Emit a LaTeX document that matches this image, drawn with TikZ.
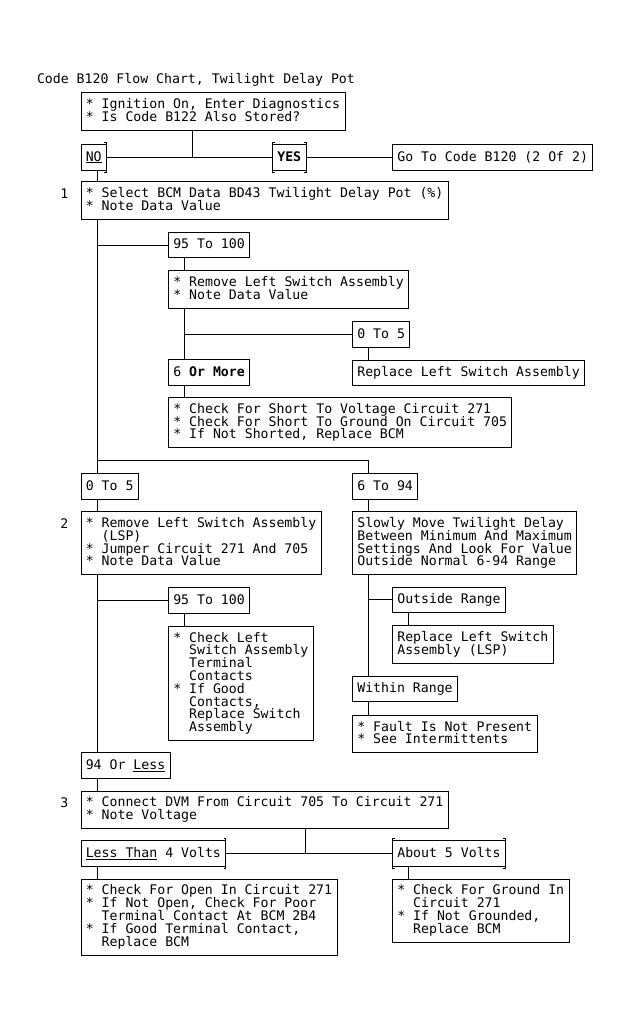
\documentclass[tikz,border=0pt]{standalone}
\usepackage{fontspec}
\usetikzlibrary{positioning}
\newfontfamily\chartfont{DejaVu Sans Mono}
\newcommand{\chartsize}{\fontsize{13.2pt}{12.8pt}\selectfont\lineskiplimit=-20pt\relax}
\newcommand{\cindent}{\hphantom{*\ }}

\begin{document}
\begin{tikzpicture}
		[x=1pt, y=1pt, line width=0.8pt,
		box/.style = {draw, align=left, inner xsep=4.8pt, inner ysep=5.7pt, outer sep=0pt,
			font={\chartfont\chartsize},
			execute at begin node={\vrule width 0pt height 11pt depth 0pt\relax},
			execute at end node={\vrule width 0pt height 0pt depth 3.2pt\relax}},
		plain/.style = {box, draw=none}]
	\useasboundingbox (0,0) rectangle (631,-1033);
	\fill[white] (0,0) rectangle (631,-1033);
	\node[box, anchor=north west] (qa) at (81,-92.5) {* Ignition On, Enter Diagnostics\\* Is Code B122 Also Stored?};
	\node[plain, anchor=base west, inner sep=0pt] (title) at (37,-84) {Code B120 Flow Chart, Twilight Delay Pot};
	\node[box, below right=14.4pt and 0pt of qa.south west] (no) {\underline{NO}};
	\node[box, below right=14.4pt and 191.5pt of qa.south west] (yes) {\textbf{YES}};
	\node[box, below right=14.4pt and 311.5pt of qa.south west] (goto) {Go To Code B120 (2 Of 2)};
	\node[box, below right=11.7pt and 0pt of no.south west] (b1) {* Select BCM Data BD43 Twilight Delay Pot (\%)\\* Note Data Value};
	\node[plain, left=8pt of b1.north west, anchor=north east] (n1) {1};
	\node[box, below right=13pt and 87.5pt of b1.south west] (a95) {95 To 100};
	\node[box, below right=13pt and 0pt of a95.south west] (rem) {* Remove Left Switch Assembly\\* Note Data Value};
	\node[box, below right=13.4pt and 184pt of rem.south west] (b05) {0 To 5};
	\node[box, below right=12.7pt and 0pt of b05.south west] (rpl) {Replace Left Switch Assembly};
	\node[box, below right=51.4pt and 0pt of rem.south west] (more) {6 \textbf{Or More}};
	\node[box, below right=12.2pt and 0pt of more.south west] (chk) {* Check For Short To Voltage Circuit 271\\* Check For Short To Ground On Circuit 705\\* If Not Shorted, Replace BCM};
	\node[box, below right=25.6pt and -87.5pt of chk.south west] (lo5) {0 To 5};
	\node[box, below right=0pt and 271.5pt of lo5.north west] (mid) {6 To 94};
	\node[box, below right=12.7pt and 0pt of lo5.south west] (b2) {* Remove Left Switch Assembly\\\cindent(LSP)\\* Jumper Circuit 271 And 705\\* Note Data Value};
	\node[plain, left=8pt of b2.north west, anchor=north east] (n2) {2};
	\node[box, below right=12.7pt and 0pt of mid.south west] (slow) {Slowly Move Twilight Delay\\Between Minimum And Maximum\\Settings And Look For Value\\Outside Normal 6-94 Range};
	\node[box, below right=12.3pt and 40pt of slow.south west] (outs) {Outside Range};
	\node[box, below right=13pt and 0pt of outs.south west] (rlsp) {Replace Left Switch\\Assembly (LSP)};
	\node[box, below right=13pt and -40pt of rlsp.south west] (within) {Within Range};
	\node[box, below right=13.5pt and 0pt of within.south west] (fault) {* Fault Is Not Present\\* See Intermittents};
	\node[box, below right=13pt and 87.5pt of b2.south west] (c95) {95 To 100};
	\node[box, below right=13pt and 0pt of c95.south west] (cl) {* Check Left\\\cindent Switch Assembly\\\cindent Terminal\\\cindent Contacts\\* If Good\\\cindent Contacts,\\\cindent Replace Switch\\\cindent Assembly};
	\node[box, below right=12pt and -87.5pt of cl.south west] (lo94) {94 Or \underline{Less}};
	\node[box, below right=13pt and 0pt of lo94.south west] (b3) {* Connect DVM From Circuit 705 To Circuit 271\\* Note Voltage};
	\node[plain, left=8pt of b3.north west, anchor=north east] (n3) {3};
	\node[box, below right=12pt and 0pt of b3.south west] (lt) {\underline{Less Than} 4 Volts};
	\node[box, below right=12pt and 311.5pt of b3.south west] (ab) {About 5 Volts};
	\node[box, below right=13pt and 0pt of lt.south west] (op) {* Check For Open In Circuit 271\\* If Not Open, Check For Poor\\\cindent Terminal Contact At BCM 2B4\\* If Good Terminal Contact,\\\cindent Replace BCM};
	\node[box, below right=13pt and 0pt of ab.south west] (gr) {* Check For Ground In\\\cindent Circuit 271\\* If Not Grounded,\\\cindent Replace BCM};
	% answer brackets
	\foreach \n in {no, yes, lt, ab}
		\draw ([xshift=-2pt, yshift=2pt]\n.north east) -| ([yshift=-2pt]\n.south east) -- ++(-2pt,0);
	\foreach \n in {yes, ab}
		\draw ([xshift=2pt, yshift=2pt]\n.north west) -| ([yshift=-2pt]\n.south west) -- ++(2pt,0);
	% connectors
	\draw ([xshift=111pt]qa.south west) |- (no.east);
	\draw (no.east) -- (yes.west);
	\draw (yes.east) -- (goto.west);
	\draw ([xshift=16pt]b1.south west) -- ([xshift=16pt]lo5.north west);
	\draw ([xshift=16pt]b1.south west) |- (a95.west);
	\draw ([xshift=16pt, yshift=12.5pt]lo5.north west) -| ([xshift=16pt]mid.north west);
	\draw ([xshift=16pt]rem.south west) |- (b05.west);
	\draw ([xshift=16pt]b2.south west) |- (c95.west);
	\draw ([xshift=16pt]slow.south west) |- (outs.west);
	\draw ([xshift=224pt]b3.south west) |- (lt.east);
	\draw (lt.east) -- (ab.west);
	\foreach \a/\b in {no/b1, a95/rem, rem/more, b05/rpl, more/chk, lo5/b2, mid/slow,
			b2/lo94, c95/cl, slow/within, outs/rlsp, within/fault, lo94/b3, lt/op, ab/gr}
		\draw ([xshift=16pt]\a.south west) -- ([xshift=16pt]\b.north west);
\end{tikzpicture}
\end{document}
